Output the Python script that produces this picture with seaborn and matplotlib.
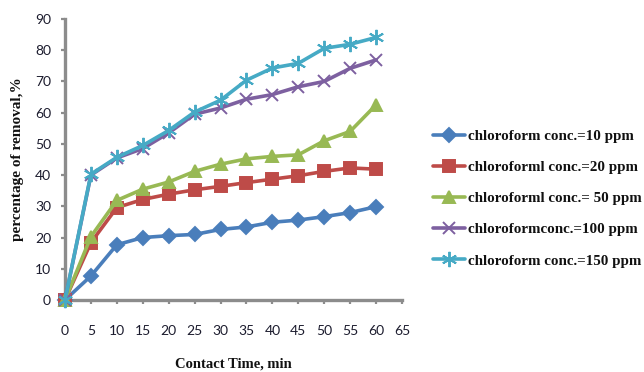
import matplotlib
matplotlib.use("Agg")
import matplotlib.pyplot as plt
import seaborn as sns
import pandas as pd

# Contact time (min) and removal (%) for each chloroform concentration
time_min = [0, 5, 10, 15, 20, 25, 30, 35, 40, 45, 50, 55, 60]
conc_10 = [0, 7.7, 17.7, 20.0, 20.6, 21.0, 22.6, 23.4, 24.9, 25.6, 26.7, 28.0, 29.9]
conc_20 = [0, 18.4, 29.6, 32.2, 33.9, 35.3, 36.4, 37.6, 38.7, 39.8, 41.2, 42.3, 41.9]
conc_50 = [0, 20.3, 31.9, 35.5, 37.8, 41.2, 43.5, 45.2, 46.0, 46.5, 51.0, 54.0, 62.5]
conc_100 = [0, 40.0, 45.5, 48.5, 53.5, 59.5, 61.5, 64.3, 65.8, 68.3, 70.0, 74.2, 76.9]
conc_150 = [0, 40.3, 45.7, 49.5, 54.3, 60.2, 64.0, 70.4, 74.3, 75.8, 80.6, 81.9, 84.1]

series_labels = [
    "chloroform conc.=10 ppm",
    "chloroforml conc.=20 ppm",
    "chloroforml conc.= 50 ppm",
    "chloroformconc.=100 ppm",
    "chloroform conc.=150 ppm",
]
series_values = [conc_10, conc_20, conc_50, conc_100, conc_150]
x_ticks = list(range(0, 70, 5))
y_ticks = list(range(0, 100, 10))

colors = ["#4A7EBB", "#BE4B48", "#98B954", "#7D60A0", "#46AAC5"]
markers = ["D", "s", "^", "x", (6, 2, 0)]
msizes = [7, 8, 8, 9, 11]

sns.set_theme(style="white")
plt.rcParams["font.family"] = ["Liberation Serif", "DejaVu Sans"]

fig = plt.figure(figsize=(6.44, 3.72), dpi=100)
ax = fig.add_axes([65 / 644, 1 - 300 / 372, (402 - 65) / 644, (300 - 19) / 372])

for label, vals, c, m, ms in zip(series_labels, series_values, colors, markers, msizes):
    df = pd.DataFrame({"time": time_min, "removal": vals})
    sns.lineplot(
        data=df, x="time", y="removal", ax=ax, color=c, linewidth=2.6,
        marker=m, markersize=ms, markeredgecolor=c, markeredgewidth=1.4,
        label=label, clip_on=False, zorder=3,
    )

ax.set_xlim(0, 65)
ax.set_ylim(0, 90)
ax.set_xticks(x_ticks)
ax.set_yticks(y_ticks)

tick_font = dict(family="Lato", size=10, color="#1c1c2e")
ax.set_xticklabels([str(t) for t in x_ticks], **tick_font)
ax.set_yticklabels([str(t) for t in y_ticks], **tick_font)

for side in ["top", "right"]:
    ax.spines[side].set_visible(False)
for side in ["left", "bottom"]:
    ax.spines[side].set_color("#8c8c8c")
    ax.spines[side].set_linewidth(2.4)

ax.tick_params(axis="both", which="major", direction="out", length=3, width=1.6,
               color="#8c8c8c", bottom=True, left=True)
ax.tick_params(axis="x", pad=15)
ax.tick_params(axis="y", pad=7)

ax.set_xlabel("Contact Time, min", fontsize=10.5, fontweight="bold",
              family="Liberation Serif", color="#111111", labelpad=15)
ax.set_ylabel("percentage of removal,%", fontsize=11, fontweight="bold",
              family="Liberation Serif", color="#111111", labelpad=8)

leg = ax.legend(
    loc="center left", bbox_to_anchor=(433 / 644, 1 - 198.5 / 372),
    bbox_transform=fig.transFigure, frameon=False, borderpad=0, borderaxespad=0,
    handlelength=2.1, handletextpad=0.2, labelspacing=1.18,
    prop={"family": "Liberation Serif", "weight": "bold", "size": 10.8},
)
for t in leg.get_texts():
    t.set_color("#111111")

fig.savefig("out.png", dpi=100)
